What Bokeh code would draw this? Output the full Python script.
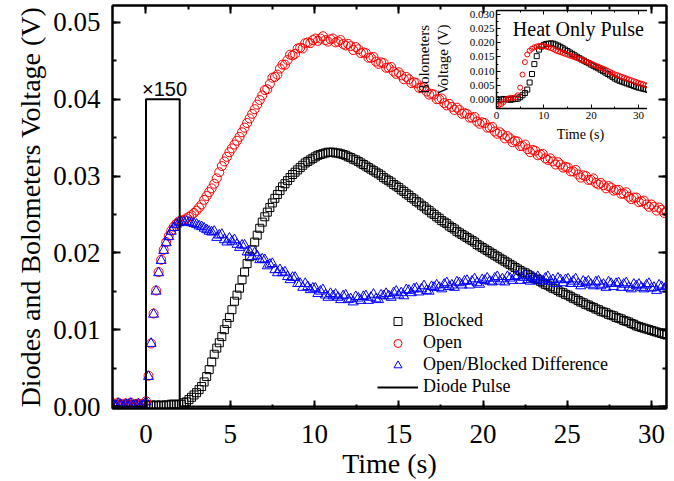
import numpy as np
from bokeh.plotting import figure
from bokeh.models import (LinearAxis, SingleIntervalTicker, NumeralTickFormatter,
                          Legend, LegendItem, Label, Range1d, CustomLabelingPolicy)
from bokeh.layouts import column
from bokeh.embed import file_html
from bokeh.resources import INLINE

# ---------------- main chart data (mV), sampled every 0.15 s from -1.95 s ----------------
T0 = -1.95
DT = 0.15
open_mv = [
    0.4, 0.2, 0.5, 0.3, 0.1, 0.4, 0.3, 0.5, 0.2, 0.3, 0.4, 0.2, 0.3, 0.7, 4.0, 8.2, 12.1, 15.1, 17.5, 19.1,
    20.4, 21.4, 22.2, 22.9, 23.4, 23.8, 24.1, 24.2, 24.3, 24.5, 24.7, 24.9, 25.2, 25.5, 25.9, 26.3, 26.9, 27.4, 27.9, 28.4,
    29.0, 29.7, 30.5, 31.3, 31.9, 32.5, 33.1, 33.6, 34.1, 34.6, 35.1, 35.7, 36.3, 36.9, 37.5, 38.1, 38.7, 39.3, 39.9, 40.5,
    41.2, 41.3, 42.0, 42.8, 42.9, 43.2, 44.0, 44.5, 44.5, 45.1, 45.8, 45.7, 45.9, 46.6, 46.7, 46.6, 47.3, 47.4, 47.3, 47.7,
    47.9, 47.6, 47.9, 48.2, 47.7, 47.5, 47.8, 47.9, 47.4, 47.5, 47.7, 47.2, 47.0, 47.2, 46.9, 46.4, 46.8, 46.5, 46.0, 46.1,
    46.0, 45.4, 45.4, 45.5, 44.9, 44.6, 44.8, 44.7, 44.1, 44.1, 44.2, 43.6, 43.3, 43.5, 43.1, 42.6, 42.9, 42.6, 42.1, 42.2,
    42.1, 41.5, 41.5, 41.6, 41.0, 40.6, 40.7, 40.6, 40.0, 40.0, 40.1, 39.5, 39.2, 39.4, 39.0, 38.6, 38.9, 38.6, 38.1, 38.2,
    38.1, 37.6, 37.6, 37.7, 37.1, 36.8, 37.0, 36.9, 36.3, 36.3, 36.4, 35.8, 35.5, 35.7, 35.4, 34.9, 35.2, 34.9, 34.4, 34.6,
    34.5, 33.9, 33.9, 34.1, 33.5, 33.1, 33.4, 33.3, 32.7, 32.8, 32.9, 32.3, 32.1, 32.3, 31.9, 31.5, 31.8, 31.5, 31.1, 31.2,
    31.1, 30.6, 30.6, 30.8, 30.2, 29.8, 30.1, 30.0, 29.5, 29.5, 29.7, 29.1, 28.9, 29.1, 28.8, 28.4, 28.7, 28.5, 28.1, 28.2,
    28.2, 27.7, 27.7, 27.9, 27.3, 27.0, 27.2, 27.2, 26.6, 26.7, 26.8, 26.3, 26.0, 26.3, 26.0, 25.5, 25.9, 25.6, 25.2, 25.4,
]
blocked_mv = [
    0.2, 0.3, 0.1, 0.2, 0.3, 0.2, 0.1, 0.3, 0.2, 0.2, 0.3, 0.1, 0.2, 0.2, 0.1, 0.2, 0.1, 0.2, 0.1, 0.2,
    0.1, 0.2, 0.2, 0.3, 0.3, 0.2, 0.3, 0.3, 0.5, 0.6, 0.9, 1.2, 1.5, 1.8, 2.2, 2.6, 3.2, 3.9, 4.8, 5.8,
    6.8, 7.6, 8.3, 9.1, 10.0, 10.8, 11.6, 12.6, 13.7, 14.5, 15.4, 16.5, 17.5, 18.6, 19.5, 20.4, 21.4, 22.3, 23.2, 24.0,
    24.7, 25.3, 25.9, 26.5, 27.1, 27.6, 28.1, 28.6, 29.0, 29.4, 29.8, 30.2, 30.5, 30.8, 31.1, 31.4, 31.7, 31.9, 32.1, 32.3,
    32.5, 32.7, 32.8, 32.9, 33.0, 33.1, 33.1, 33.1, 33.0, 33.0, 32.9, 32.8, 32.7, 32.5, 32.4, 32.2, 32.1, 31.9, 31.7, 31.5,
    31.3, 31.1, 30.9, 30.7, 30.5, 30.3, 30.1, 29.8, 29.6, 29.4, 29.2, 28.9, 28.7, 28.5, 28.2, 28.0, 27.7, 27.5, 27.2, 27.0,
    26.7, 26.5, 26.2, 26.0, 25.7, 25.5, 25.2, 25.0, 24.7, 24.5, 24.2, 24.0, 23.8, 23.5, 23.3, 23.1, 22.8, 22.6, 22.4, 22.2,
    22.0, 21.8, 21.6, 21.4, 21.1, 20.9, 20.7, 20.5, 20.3, 20.1, 19.9, 19.7, 19.5, 19.3, 19.1, 18.9, 18.7, 18.5, 18.3, 18.1,
    17.9, 17.7, 17.5, 17.4, 17.2, 17.0, 16.8, 16.6, 16.5, 16.3, 16.1, 15.9, 15.8, 15.6, 15.4, 15.3, 15.1, 14.9, 14.8, 14.6,
    14.5, 14.3, 14.1, 14.0, 13.8, 13.6, 13.5, 13.3, 13.2, 13.0, 12.9, 12.7, 12.6, 12.4, 12.3, 12.2, 12.0, 11.9, 11.8, 11.6,
    11.5, 11.4, 11.2, 11.1, 11.0, 10.8, 10.7, 10.5, 10.4, 10.3, 10.2, 10.1, 10.0, 9.9, 9.8, 9.7, 9.6, 9.5, 9.4, 9.3,
]
diff_mv = [
    0.3, 0.1, 0.4, 0.2, 0.0, 0.3, 0.2, 0.4, 0.1, 0.2, 0.3, 0.1, 0.2, 0.6, 3.9, 8.2, 12.0, 15.0, 17.4, 19.0,
    20.3, 21.3, 22.1, 22.8, 23.3, 23.7, 23.9, 24.0, 24.0, 24.1, 24.0, 23.9, 23.8, 23.7, 23.5, 23.4, 23.2, 23.0, 22.8, 22.7,
    22.8, 22.0, 22.3, 22.4, 21.7, 21.4, 21.9, 21.5, 21.7, 21.1, 20.7, 21.0, 21.0, 20.1, 20.1, 19.5, 20.0, 19.6, 19.1, 19.2,
    19.1, 18.3, 18.5, 18.6, 17.8, 17.4, 17.8, 17.4, 17.5, 16.9, 16.5, 16.8, 16.8, 16.0, 16.0, 15.5, 16.0, 15.6, 15.2, 15.4,
    15.4, 14.7, 15.0, 15.2, 14.5, 14.2, 14.7, 14.4, 14.6, 14.2, 13.9, 14.4, 14.5, 13.9, 14.0, 13.6, 14.3, 14.1, 13.8, 14.3,
    14.4, 13.8, 14.2, 14.6, 14.0, 13.9, 14.5, 14.4, 14.7, 14.4, 14.2, 14.8, 15.0, 14.5, 14.8, 14.4, 15.2, 15.1, 14.8, 15.3,
    15.4, 14.9, 15.3, 15.7, 15.1, 15.0, 15.6, 15.5, 15.8, 15.5, 15.3, 15.9, 16.1, 15.6, 15.8, 15.5, 16.2, 16.1, 15.8, 16.3,
    16.4, 15.8, 16.3, 16.6, 16.1, 15.9, 16.5, 16.4, 16.7, 16.3, 16.2, 16.7, 16.9, 16.3, 16.6, 16.2, 16.9, 16.7, 16.4, 16.9,
    17.0, 16.4, 16.8, 17.1, 16.5, 16.3, 16.8, 16.6, 16.9, 16.5, 16.3, 16.7, 16.9, 16.3, 16.5, 16.0, 16.7, 16.5, 16.1, 16.5,
    16.6, 16.0, 16.3, 16.6, 16.0, 15.7, 16.3, 16.1, 16.3, 15.9, 15.7, 16.2, 16.3, 15.7, 15.9, 15.5, 16.2, 16.0, 15.6, 16.0,
    16.1, 15.5, 15.9, 16.1, 15.5, 15.3, 15.9, 15.7, 15.9, 15.5, 15.3, 15.8, 16.0, 15.4, 15.5, 15.1, 15.8, 15.6, 15.3, 15.7,
]
# diode pulse (x150 scaled), drawn as a step outline
diode_t = [-2.0, 0.0, 0.0, 2.0, 2.0, 31.0]
diode_v = [0.0, 0.0, 0.04, 0.04, 0.0, 0.0]

# ---------------- inset data (mV), every 0.5 s from 0 s ----------------
INSET_T0 = 0.0
INSET_DT = 0.5
inset_black_mv = [
    0.1, -0.1, 0.0, 0.2, 0.0, 0.1, -0.1, 0.1, 0.2,
    0.3, 0.8, 1.5, 2.3, 3.5, 6.0, 9.0, 12.5, 15.3, 17.6, 18.7, 19.3, 19.6, 19.7, 19.8, 19.7, 19.4,
    19.0, 18.6, 18.1, 17.6, 17.1, 16.6, 16.1, 15.6, 15.1, 14.6, 14.1, 13.7, 13.2, 12.8, 12.3, 11.9,
    11.4, 11.0, 10.5, 10.0, 9.5, 9.0, 8.5, 8.0, 7.4, 7.0, 6.6, 6.3, 6.0, 5.7, 5.4, 5.1, 4.8, 4.5,
    4.2, 4.0, 3.8, 3.6, 3.4, 3.3, 3.1, 3.0, 2.9, 2.8, 2.7, 2.6,
]
inset_red_mv = [
    -1.8, -2.0, -1.6, -0.9, 0.0, 0.4, 0.6, 0.6, 0.8,
    1.5, 4.2, 8.8, 13.2, 15.9, 17.2, 17.9, 18.4, 18.7, 18.9, 18.9, 18.8, 18.6, 18.4, 18.1, 17.8, 17.3,
    17.0, 16.7, 16.4, 16.1, 15.8, 15.5, 15.2, 14.9, 14.6, 14.3, 14.0, 13.7, 13.3, 13.0, 12.6, 12.3,
    11.9, 11.6, 11.2, 10.9, 10.5, 10.1, 9.7, 9.3, 8.9, 8.6, 8.3, 8.0, 7.7, 7.4, 7.1, 6.8, 6.5, 6.2,
    5.9, 5.6, 5.4, 5.1, 4.9, 4.6, 4.4, 4.2, 4.0, 3.9, 3.8, 3.7,
]

time_s = np.round(T0 + DT * np.arange(len(open_mv)), 2)
inset_t = np.round(INSET_T0 + INSET_DT * np.arange(len(inset_black_mv)), 2)


def to_v(mv):
    return np.asarray(mv) / 1000.0


SERIF = "Liberation Serif"
NO_LABELS = "for (let i = 0; i < indices.size; i++) { indices.unset(i) }\nreturn indices"


def style_axis(ax, tick_in, minor_in, lw, font_size, label_size, show_labels=True):
    ax.axis_line_color = "black"
    ax.axis_line_width = lw
    ax.major_tick_in = tick_in
    ax.major_tick_out = 0
    ax.minor_tick_in = minor_in
    ax.minor_tick_out = 0
    ax.major_tick_line_width = lw
    ax.minor_tick_line_width = lw
    ax.major_tick_line_color = "black"
    ax.minor_tick_line_color = "black"
    ax.major_label_text_font = SERIF
    ax.major_label_text_color = "black"
    ax.axis_label_text_font = SERIF
    ax.axis_label_text_font_style = "normal"
    ax.axis_label_text_color = "black"
    ax.axis_label_text_font_size = label_size
    if show_labels:
        ax.major_label_text_font_size = font_size
    else:
        ax.major_label_text_font_size = "1px"
        ax.major_label_standoff = 0
        ax.major_label_policy = CustomLabelingPolicy(code=NO_LABELS)


# ---------------- main figure ----------------
p = figure(width=674, height=481,
           x_range=Range1d(-1.988, 30.89), y_range=Range1d(-0.00026, 0.0522),
           output_backend="svg", toolbar_location=None,
           min_border_left=112, min_border_right=8, min_border_top=5, min_border_bottom=70,
           x_axis_label="Time (s)", y_axis_label="Diodes and Bolometers Voltage (V)")
p.xgrid.visible = False
p.ygrid.visible = False
p.outline_line_color = "black"
p.outline_line_width = 2
p.background_fill_color = "white"
p.border_fill_color = "white"

xt = SingleIntervalTicker(interval=5, num_minor_ticks=2)
yt = SingleIntervalTicker(interval=0.01, num_minor_ticks=2)
p.xaxis.ticker = xt
p.yaxis.ticker = yt
p.yaxis.formatter = NumeralTickFormatter(format="0.00")
style_axis(p.xaxis[0], 8, 4, 2, "27px", "28px")
style_axis(p.yaxis[0], 8, 4, 2, "27px", "28px")
p.xaxis.major_label_standoff = 16
p.xaxis.axis_label_standoff = 2
p.yaxis.major_label_standoff = 12
p.yaxis.axis_label_standoff = 4

top_ax = LinearAxis(ticker=xt)
style_axis(top_ax, 8, 4, 2, "27px", "28px", show_labels=False)
p.add_layout(top_ax, "above")
right_ax = LinearAxis(ticker=yt)
style_axis(right_ax, 8, 4, 2, "27px", "28px", show_labels=False)
p.add_layout(right_ax, "right")

r_blk = p.scatter(time_s, to_v(blocked_mv), marker="square", size=8, fill_alpha=0,
                  line_color="black", line_width=1)
r_open = p.scatter(time_s, to_v(open_mv), marker="circle", size=9, fill_alpha=0,
                   line_color="#ff0000", line_width=1)
r_diff = p.scatter(time_s, to_v(diff_mv), marker="triangle", size=10, fill_alpha=0,
                   line_color="#0000ff", line_width=1)
r_diode = p.line(diode_t, diode_v, line_color="black", line_width=2)

p.add_layout(Label(x=1.1, y=0.0413, text="×150", text_font="Liberation Sans",
                   text_font_size="20px", text_align="center", text_baseline="alphabetic",
                   text_color="black"))

legend = Legend(items=[LegendItem(label="Blocked", renderers=[r_blk]),
                       LegendItem(label="Open", renderers=[r_open]),
                       LegendItem(label="Open/Blocked Difference", renderers=[r_diff]),
                       LegendItem(label="Diode Pulse", renderers=[r_diode])],
                location=(265, 11), border_line_alpha=0, background_fill_alpha=0,
                padding=0, margin=0, spacing=1, glyph_width=41, glyph_height=20,
                label_standoff=5, label_height=20, label_text_font=SERIF,
                label_text_font_size="18px", label_text_color="black")
p.add_layout(legend)

# ---------------- inset figure ----------------
ins = figure(frame_width=168, frame_height=98,
             x_range=Range1d(0, 35.5), y_range=Range1d(-0.00317, 0.0314),
             output_backend="svg", toolbar_location=None,
             min_border_left=90, min_border_right=2, min_border_top=2, min_border_bottom=36,
             x_axis_label="Time (s)", y_axis_label="Bolometers\nVoltage (V)",
             styles={"position": "absolute", "left": "384px", "top": "6px"})
ins.xgrid.visible = False
ins.ygrid.visible = False
ins.border_fill_alpha = 0
ins.background_fill_color = "white"
ins.outline_line_color = "black"
ins.outline_line_width = 1.5
ixt = SingleIntervalTicker(interval=10, num_minor_ticks=2)
iyt = SingleIntervalTicker(interval=0.005, num_minor_ticks=2)
ins.xaxis.ticker = ixt
ins.yaxis.ticker = iyt
ins.yaxis.formatter = NumeralTickFormatter(format="0.000")
style_axis(ins.xaxis[0], 4, 2, 1, "11px", "14px")
style_axis(ins.yaxis[0], 4, 2, 1, "11px", "15px")
ins.xaxis.major_label_standoff = 3
ins.xaxis.axis_label_standoff = 5
ins.yaxis.major_label_standoff = 2
ins.yaxis.axis_label_standoff = 16
itop = LinearAxis(ticker=ixt)
style_axis(itop, 4, 2, 1, "11px", "14px", show_labels=False)
ins.add_layout(itop, "above")
iright = LinearAxis(ticker=iyt)
style_axis(iright, 4, 2, 1, "11px", "14px", show_labels=False)
ins.add_layout(iright, "right")

ins.scatter(inset_t, to_v(inset_black_mv), marker="square", size=5, fill_alpha=0,
            line_color="black", line_width=1)
ins.scatter(inset_t, to_v(inset_red_mv), marker="circle", size=5, fill_alpha=0,
            line_color="#ff0000", line_width=1)
ins.add_layout(Label(x=17.3, y=0.0247, text="Heat Only Pulse", text_font=SERIF,
                     text_font_size="20px", text_align="center", text_baseline="alphabetic",
                     text_color="black"))

layout = column(p, ins)
open("out.html", "w").write(file_html(layout, INLINE))
